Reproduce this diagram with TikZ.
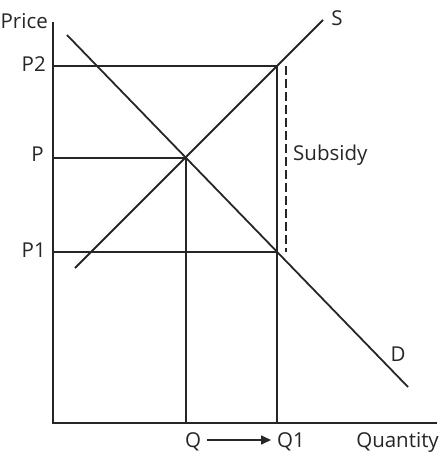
\documentclass[tikz,border=0pt]{standalone}
\usepackage{fontspec}
\setmainfont{Open Sans}
\usetikzlibrary{arrows.meta}
\begin{document}
\begin{tikzpicture}[x=1pt,y=-1pt,
  ln/.style={draw=black!85, line width=1.8pt},
  dashln/.style={draw=black!85, line width=2pt, dash pattern=on 9pt off 4pt},
  lbl/.style={font=\fontsize{20.5}{23}\selectfont, text=black!85, inner sep=0pt}]
\useasboundingbox (0,0) rectangle (446,454);
\clip (0,0) rectangle (446,454);
% axes
\coordinate (O) at (53,423);
\coordinate (Ytop) at (53,22);
\coordinate (Xend) at (437,423);
\draw[ln] (Ytop) -- (O) -- (Xend);
% curves
\coordinate (Stop) at (323,20);
\coordinate (Sbot) at (75,268);
\coordinate (Dtop) at (67,35);
\coordinate (Dbot) at (408,387);
\draw[ln] (Sbot) -- (Stop);
\draw[ln] (Dtop) -- (Dbot);
% key points
\coordinate (E) at (186,158);
\coordinate (A) at (277,66);
\coordinate (B) at (277,252);
\coordinate (Pax) at (53,158);
\coordinate (P2ax) at (53,66);
\coordinate (P1ax) at (53,252);
\coordinate (Qax) at (186,423);
\coordinate (Q1ax) at (277,423);
\draw[ln] (P2ax) -- (A) -- (Q1ax);
\draw[ln] (Pax) -- (E) -- (Qax);
\draw[ln] (P1ax) -- (B);
% subsidy
\coordinate (dtop) at (286,66);
\coordinate (dbot) at (286,252);
\draw[dashln] (dtop) -- (dbot);
% labels
\node[lbl, anchor=base east] (price) at (48,29) {Price};
\node[lbl, anchor=base east] (p2) at (46,72) {P2};
\node[lbl, anchor=base east] (p) at (44,162) {P};
\node[lbl, anchor=base east] (p1) at (46,257) {P1};
\node[lbl, anchor=base west] (sub) at (293,161) {Subsidy};
\node[lbl] (s) at (337,18) {S};
\node[lbl] (d) at (398,354) {D};
\node[lbl, anchor=base west] (q) at (185,447) {Q};
\node[lbl, anchor=base west] (q1) at (277,447) {Q1};
\node[lbl, anchor=base east] (qty) at (439,447) {Quantity};
\coordinate (as) at (207,440);
\coordinate (ae) at (271,440);
\draw[draw=black!85, line width=1.5pt, -{Triangle[length=10pt,width=9pt]}] (as) -- (ae);
\end{tikzpicture}
\end{document}
